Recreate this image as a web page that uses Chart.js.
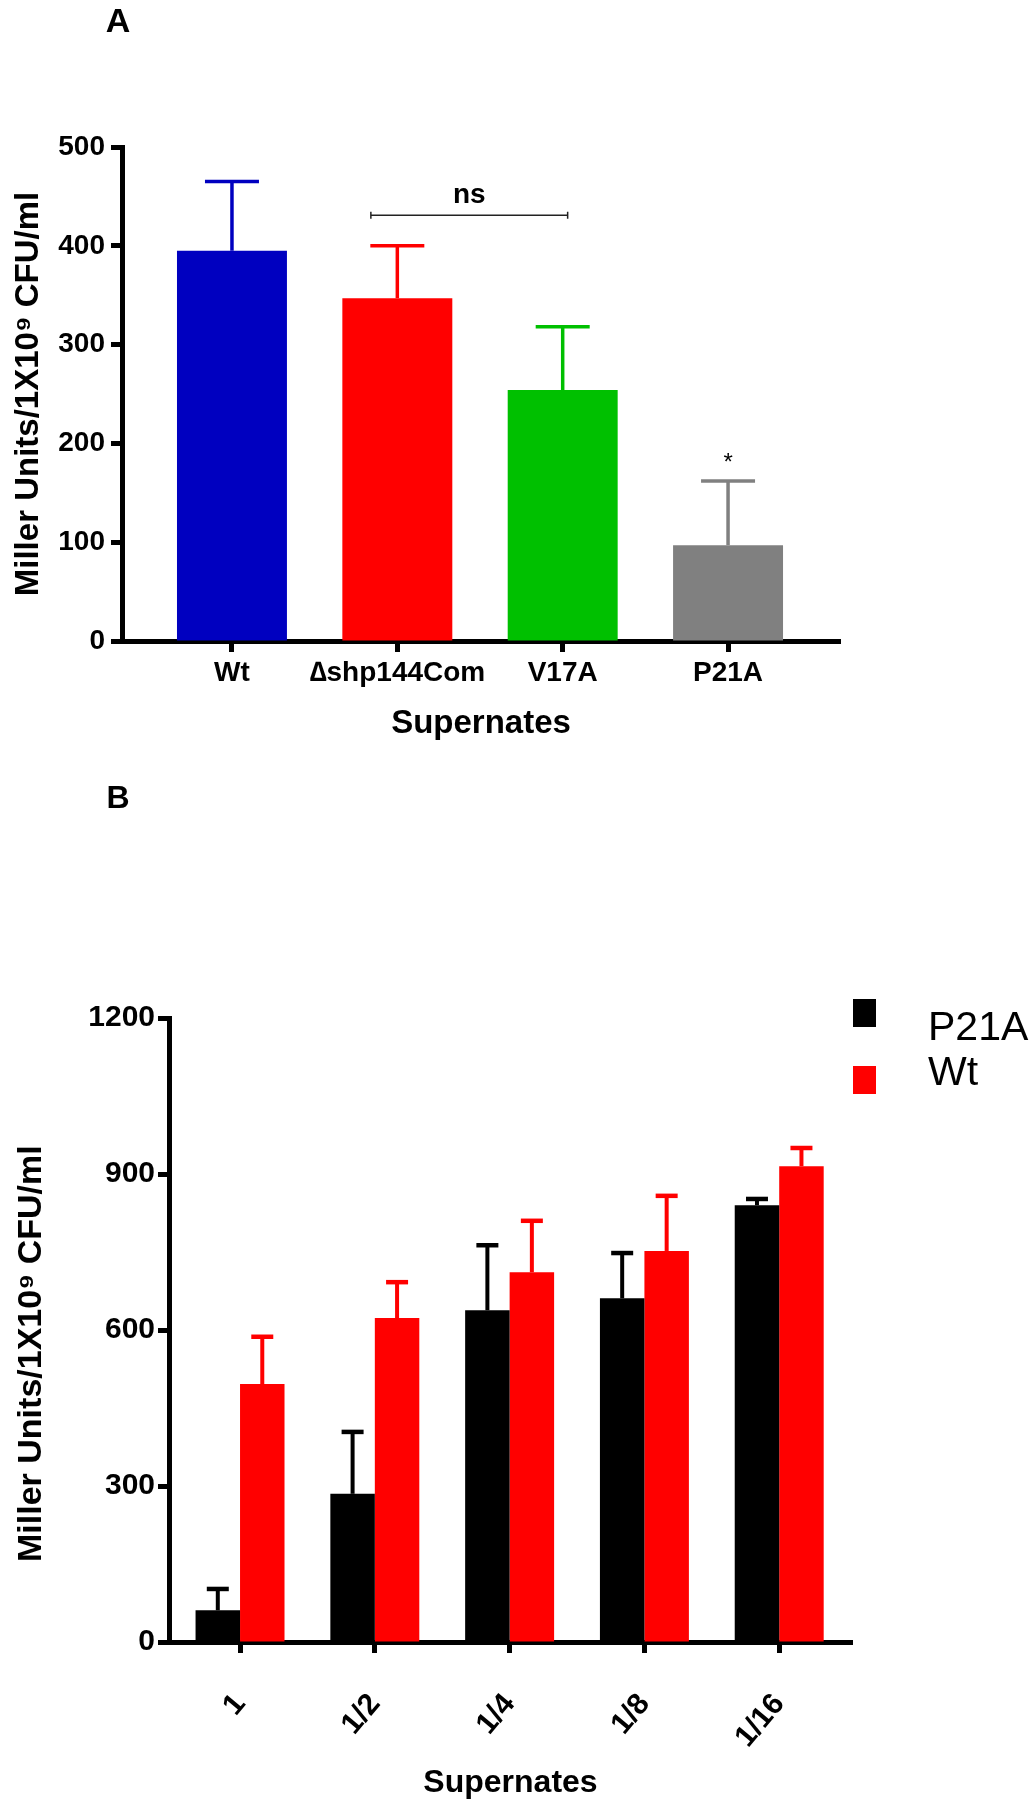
<!DOCTYPE html>
<html>
<head>
<meta charset="utf-8">
<script src="https://cdn.jsdelivr.net/npm/chart.js@4.4.1/dist/chart.umd.min.js"></script>
<style>
  html, body { margin: 0; padding: 0; background: #fff; }
  canvas { display: block; }
</style>
</head>
<body>
<canvas id="chartA" width="1030" height="745"></canvas>
<canvas id="chartB" width="1030" height="1065"></canvas>
<script>
// Panel A: Miller units per supernate
const strainsA = ['Wt', '\u2206shp144Com', 'V17A', 'P21A'];
const millerA = [395, 347, 254, 97];
const errA = [70, 53, 64, 65];
const colorsA = ['#0000c0', '#ff0000', '#00c000', '#808080'];
const yTicksA = [0, 100, 200, 300, 400, 500];

// Panel B: dilution series
const dilutionsB = ['1', '1/2', '1/4', '1/8', '1/16'];
const p21aB = [61, 285, 638, 661, 840];
const p21aErrB = [41, 119, 125, 87, 12];
const wtB = [496, 623, 711, 752, 915];
const wtErrB = [91, 69, 99, 106, 35];
const yTicksB = [0, 300, 600, 900, 1200];

const yTitle = 'Miller Units/1X10\u2079 CFU/ml';

// annotations for panel A (data space)
const nsBracket = { from: 0.84, to: 2.03, value: 431, textValue: 443 };
const star = { index: 3, value: 173 };

const SANS = "'Liberation Sans', Arial, sans-serif";

// the B panel uses a narrow face for ticks if there is one
function fontAvailable(name) {
  const c = document.createElement('canvas').getContext('2d');
  c.font = 'bold 40px monospace';
  const base = c.measureText('1200 Supernates').width;
  c.font = 'bold 40px "' + name + '", monospace';
  return c.measureText('1200 Supernates').width !== base;
}
const narrow = fontAvailable('Liberation Sans Narrow');
const NARROW = narrow ? "'Liberation Sans Narrow', " + SANS : SANS;
const sizeB = narrow ? { tick: 35, cat: 34, axis: 37 } : { tick: 30, cat: 30, axis: 32 };

Chart.defaults.font.family = SANS;
Chart.defaults.color = '#000';

const errorBars = {
  id: 'errorBars',
  afterDatasetsDraw(chart, args, opts) {
    const ctx = chart.ctx;
    const yScale = chart.scales.y;
    chart.data.datasets.forEach((ds, di) => {
      if (!ds.errors) return;
      const meta = chart.getDatasetMeta(di);
      meta.data.forEach((bar, i) => {
        const top = yScale.getPixelForValue(ds.data[i].y + ds.errors[i]);
        const color = Array.isArray(ds.errorColor) ? ds.errorColor[i] : ds.errorColor;
        ctx.save();
        ctx.strokeStyle = color;
        ctx.lineWidth = opts.stem;
        ctx.beginPath();
        ctx.moveTo(bar.x, bar.y);
        ctx.lineTo(bar.x, top);
        ctx.stroke();
        ctx.lineWidth = opts.cap;
        ctx.beginPath();
        ctx.moveTo(bar.x - opts.capHalf, top);
        ctx.lineTo(bar.x + opts.capHalf, top);
        ctx.stroke();
        ctx.restore();
      });
    });
  }
};

const annotateA = {
  id: 'annotateA',
  afterDraw(chart) {
    const { ctx, scales: { x, y } } = chart;
    ctx.save();
    ctx.fillStyle = '#000';
    ctx.textAlign = 'center';
    ctx.textBaseline = 'alphabetic';
    ctx.font = 'bold 34px ' + SANS;
    ctx.fillText('A', 118, 32);

    const x0 = x.getPixelForValue(nsBracket.from);
    const x1 = x.getPixelForValue(nsBracket.to);
    const yb = y.getPixelForValue(nsBracket.value);
    ctx.strokeStyle = '#222';
    ctx.lineWidth = 1.5;
    ctx.beginPath();
    ctx.moveTo(x0, yb); ctx.lineTo(x1, yb);
    ctx.moveTo(x0, yb - 3.5); ctx.lineTo(x0, yb + 3.5);
    ctx.moveTo(x1, yb - 3.5); ctx.lineTo(x1, yb + 3.5);
    ctx.stroke();
    ctx.font = 'bold 28px ' + SANS;
    ctx.fillText('ns', (x0 + x1) / 2, y.getPixelForValue(nsBracket.textValue));

    ctx.font = '24px ' + SANS;
    ctx.fillText('*', x.getPixelForValue(star.index), y.getPixelForValue(star.value));
    ctx.restore();
  }
};

const legendB = {
  id: 'legendB',
  afterDraw(chart) {
    const ctx = chart.ctx;
    ctx.save();
    ctx.fillStyle = '#000';
    ctx.textAlign = 'center';
    ctx.font = 'bold 32px ' + SANS;
    ctx.fillText('B', 118, 63);
    ctx.textAlign = 'left';
    chart.data.datasets.forEach((ds, i) => {
      ctx.fillStyle = ds.backgroundColor;
      ctx.fillRect(853, 254 + 67 * i, 23, 28);
      ctx.fillStyle = '#000';
      ctx.font = '41px ' + SANS;
      ctx.fillText(ds.label, 928, 295 + 45 * i);
    });
    ctx.restore();
  }
};

function axisStyle() {
  return {
    grid: { drawOnChartArea: false, offset: false, tickLength: 11, tickWidth: 5, tickColor: '#000' },
    border: { display: true, color: '#000', width: 5 }
  };
}

new Chart(document.getElementById('chartA'), {
  type: 'bar',
  data: {
    datasets: [{
      data: strainsA.map((_, i) => ({ x: i, y: millerA[i] })),
      backgroundColor: colorsA,
      borderWidth: 0,
      errors: errA,
      errorColor: colorsA,
      barPercentage: 0.665,
      categoryPercentage: 1
    }]
  },
  options: {
    responsive: false,
    animation: false,
    layout: { padding: { top: 147, right: 190, left: 0, bottom: 0 } },
    plugins: {
      legend: { display: false },
      tooltip: { enabled: false },
      errorBars: { stem: 3.5, cap: 3.5, capHalf: 27 }
    },
    scales: {
      x: {
        type: 'linear', min: -0.665, max: 3.677, offset: false,
        ...axisStyle(),
        afterBuildTicks: s => { s.ticks = strainsA.map((_, i) => ({ value: i })); },
        afterFit: s => { s.height = 104; },
        ticks: { autoSkip: false, maxRotation: 0, padding: 4, font: { size: 28, weight: 'bold' }, callback: v => strainsA[v] },
        title: { display: true, text: 'Supernates', font: { size: 33, weight: 'bold' }, padding: { top: 0, bottom: 1 } }
      },
      y: {
        min: 0, max: 500,
        ...axisStyle(),
        afterBuildTicks: s => { s.ticks = yTicksA.map(v => ({ value: v })); },
        afterFit: s => { s.width = 122; },
        ticks: { padding: 6, font: { size: 28, weight: 'bold' }, callback: v => String(v) },
        title: { display: true, text: yTitle, font: { size: 33, weight: 'bold' }, padding: { top: 9, bottom: 0 } }
      }
    }
  },
  plugins: [errorBars, annotateA]
});

new Chart(document.getElementById('chartB'), {
  type: 'bar',
  data: {
    datasets: [{
      label: 'P21A',
      data: dilutionsB.map((_, i) => ({ x: i, y: p21aB[i] })),
      backgroundColor: '#000000',
      borderWidth: 0,
      errors: p21aErrB,
      errorColor: '#000000',
      barPercentage: 1,
      categoryPercentage: 0.66
    }, {
      label: 'Wt',
      data: dilutionsB.map((_, i) => ({ x: i, y: wtB[i] })),
      backgroundColor: '#ff0000',
      borderWidth: 0,
      errors: wtErrB,
      errorColor: '#ff0000',
      barPercentage: 1,
      categoryPercentage: 0.66
    }]
  },
  options: {
    responsive: false,
    animation: false,
    layout: { padding: { top: 273, right: 178, left: 0, bottom: 0 } },
    plugins: {
      legend: { display: false },
      tooltip: { enabled: false },
      errorBars: { stem: 4, cap: 4.5, capHalf: 11 }
    },
    scales: {
      x: {
        type: 'linear', min: -0.527, max: 4.54, offset: false,
        ...axisStyle(),
        afterBuildTicks: s => { s.ticks = dilutionsB.map((_, i) => ({ value: i })); },
        afterFit: s => { s.height = 168; },
        ticks: { autoSkip: false, minRotation: 50, maxRotation: 50, padding: 34, font: { family: NARROW, size: sizeB.cat, weight: 'bold' }, callback: v => dilutionsB[v] },
        title: { display: true, text: 'Supernates', font: { family: NARROW, size: sizeB.axis, weight: 'bold' }, padding: { top: 0, bottom: 8 } }
      },
      y: {
        min: 0, max: 1200,
        ...axisStyle(),
        afterBuildTicks: s => { s.ticks = yTicksB.map(v => ({ value: v })); },
        afterFit: s => { s.width = 169; },
        ticks: { padding: 3, font: { family: NARROW, size: sizeB.tick, weight: 'bold' }, callback: v => String(v) },
        // trailing spaces nudge the label a little lower, as in the figure
        title: { display: true, text: yTitle + '     ', font: { size: 34, weight: 'bold' }, padding: { top: 11, bottom: 0 } }
      }
    }
  },
  plugins: [errorBars, legendB]
});
</script>
</body>
</html>
